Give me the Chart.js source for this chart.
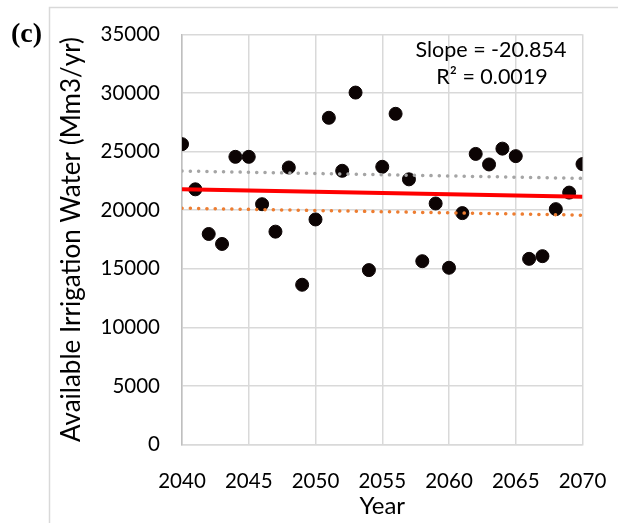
<!DOCTYPE html>
<html>
<head>
<meta charset="utf-8">
<script src="https://cdn.jsdelivr.net/npm/chart.js@4"></script>
<style>
  html, body { margin: 0; padding: 0; background: #fff; }
  #wrap { width: 618px; height: 523px; position: relative; }
</style>
</head>
<body>
<div id="wrap"><canvas id="irrigationChart"></canvas></div>
<script>
// values
const years = [2040, 2041, 2042, 2043, 2044, 2045, 2046, 2047, 2048, 2049, 2050,
  2051, 2052, 2053, 2054, 2055, 2056, 2057, 2058, 2059, 2060,
  2061, 2062, 2063, 2064, 2065, 2066, 2067, 2068, 2069, 2070];
const irrigationWater = [25630, 21780, 17970, 17120, 24550, 24550, 20510, 18170, 23640, 13640, 19210,
  27880, 23360, 30030, 14890, 23700, 28220, 22630, 15650, 20570, 15090,
  19750, 24800, 23900, 25250, 24610, 15850, 16080, 20090, 21500, 23930];

const trendYears = [2040, 2070];
const linearTrend = [21780, 21155];
const upperTrend = [23340, 22710];
const lowerTrend = [20170, 19575];

const slopeText = 'Slope = -20.854';
const r2Text = 'R² = 0.0019';
const panelLabel = '(c)';

const FONT = 'Lato, "Open Sans", sans-serif';

function toPoints(xs, ys) {
  return xs.map((x, i) => ({ x: x, y: ys[i] }));
}

const framePlugin = {
  id: 'frame',
  afterDraw(chart) {
    const ctx = chart.ctx;
    ctx.save();
    // outer chart border (left and top edges visible)
    ctx.strokeStyle = '#d9d9d9';
    ctx.lineWidth = 1.5;
    ctx.beginPath();
    ctx.moveTo(49.5, 523);
    ctx.lineTo(49.5, 7.5);
    ctx.lineTo(618, 7.5);
    ctx.stroke();

    ctx.fillStyle = '#000';
    ctx.font = 'bold 28px "Liberation Serif", "Times New Roman", serif';
    ctx.textAlign = 'left';
    ctx.textBaseline = 'middle';
    ctx.fillText(panelLabel, 11, 35);

    ctx.font = '21.5px ' + FONT;
    ctx.textAlign = 'center';
    ctx.fillText(slopeText, 491, 50);
    ctx.fillText(r2Text, 492, 77);
    ctx.restore();
  },
};

function renderChart() {
  const canvas = document.getElementById('irrigationChart');

  new Chart(canvas, {
    type: 'scatter',
    data: {
      datasets: [
        {
          label: 'Available irrigation water',
          data: toPoints(years, irrigationWater),
          backgroundColor: '#0c0404',
          borderColor: '#0c0404',
          pointRadius: 6.5,
          pointHoverRadius: 6.5,
          order: 2,
        },
        {
          label: 'Linear trend',
          type: 'line',
          data: toPoints(trendYears, linearTrend),
          borderColor: '#ff0000',
          borderWidth: 4,
          pointRadius: 0,
          fill: false,
          order: 1,
        },
        {
          label: 'Upper',
          type: 'line',
          data: toPoints(trendYears, upperTrend),
          borderColor: '#a5a5a5',
          borderWidth: 3.5,
          borderDash: [0.1, 8.2],
          borderCapStyle: 'round',
          pointRadius: 0,
          fill: false,
          order: 1,
        },
        {
          label: 'Lower',
          type: 'line',
          data: toPoints(trendYears, lowerTrend),
          borderColor: '#ed7d31',
          borderWidth: 3.5,
          borderDash: [0.1, 8.2],
          borderCapStyle: 'round',
          pointRadius: 0,
          fill: false,
          order: 1,
        },
      ],
    },
    options: {
      responsive: true,
      maintainAspectRatio: false,
      animation: false,
      layout: { padding: { left: 0, top: 32, right: 35.5, bottom: 0 } },
      plugins: {
        legend: { display: false },
        tooltip: { enabled: false },
      },
      scales: {
        x: {
          type: 'linear',
          min: 2040,
          max: 2070,
          afterFit(scale) {
            scale.height = 78.3;
            scale.paddingLeft = 0;
            scale.paddingRight = 0;
          },
          ticks: {
            stepSize: 5,
            padding: 24,
            color: '#000',
            font: { family: FONT, size: 20.5 },
            callback: (v) => String(v),
          },
          grid: { color: '#d9d9d9', lineWidth: 1.5, drawTicks: false },
          border: { color: '#d9d9d9', width: 1.5 },
          title: {
            display: true,
            text: 'Year',
            color: '#000',
            font: { family: FONT, size: 24 },
            padding: { top: 0, bottom: 2 },
          },
        },
        y: {
          min: 0,
          max: 35000,
          afterFit(scale) { scale.width = 182; },
          ticks: {
            stepSize: 5000,
            padding: 22,
            color: '#000',
            font: { family: FONT, size: 20.5 },
            callback: (v) => String(v),
          },
          grid: { color: '#d9d9d9', lineWidth: 1.5, drawTicks: false },
          border: { color: '#bfbfbf', width: 1.5 },
          title: {
            display: true,
            text: 'Available Irrigation Water (Mm3/yr)',
            color: '#000',
            font: { family: FONT, size: 26 },
            padding: { top: 56, bottom: 0 },
          },
        },
      },
    },
    plugins: [framePlugin],
  });
}

document.addEventListener('DOMContentLoaded', renderChart);
</script>
</body>
</html>
